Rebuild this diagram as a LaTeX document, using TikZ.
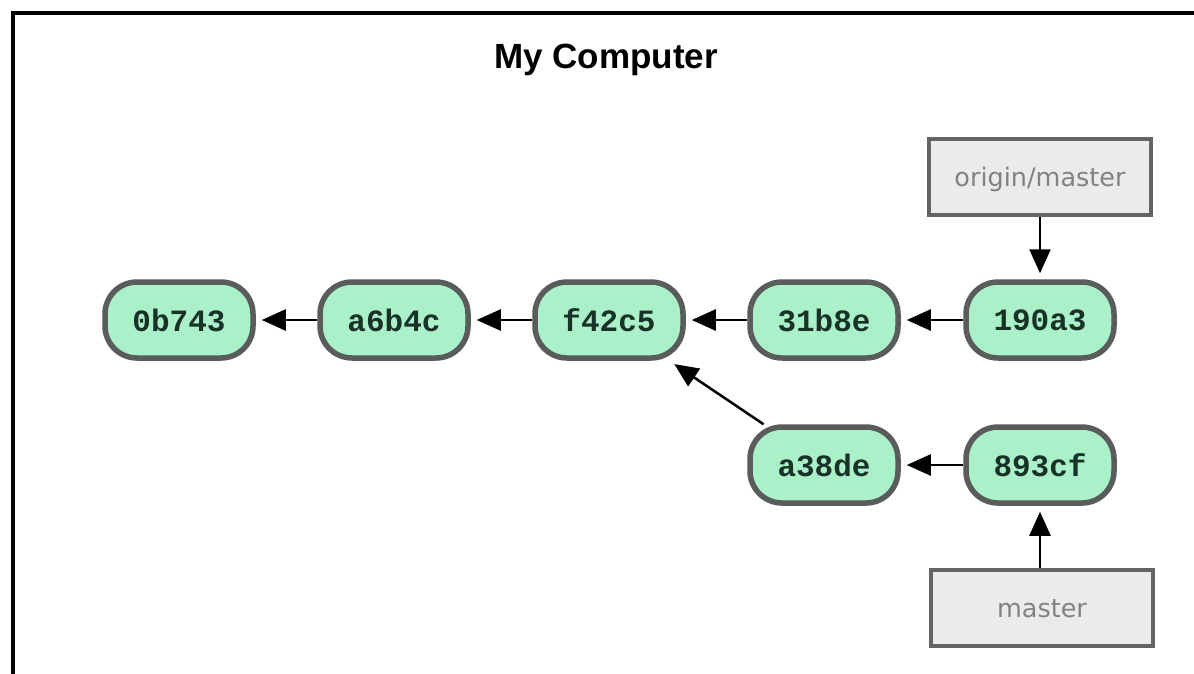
\documentclass[tikz,border=0pt]{standalone}
\usepackage{fontspec}
\usetikzlibrary{arrows.meta}
\newfontfamily\ttlfont{Liberation Sans}
\newfontfamily\cmtfont{Liberation Mono}
\newfontfamily\lblfont{DejaVu Sans}
\definecolor{mint}{RGB}{170,240,200}
\definecolor{cmtborder}{RGB}{88,92,90}
\definecolor{cmttext}{RGB}{25,50,40}
\definecolor{lblfill}{RGB}{235,235,235}
\definecolor{lblborder}{RGB}{100,100,100}
\definecolor{lbltext}{RGB}{130,130,130}
\tikzset{
  commit/.style={draw=cmtborder, fill=mint, line width=5.5pt, rounded corners=32pt,
    minimum width=148pt, minimum height=76pt, inner sep=0pt, text=cmttext,
    font=\cmtfont\bfseries\fontsize{31}{36}\selectfont},
  branch/.style={draw=lblborder, fill=lblfill, line width=4pt,
    minimum width=222pt, minimum height=76pt, inner sep=0pt, text=lbltext,
    text height=18pt, text depth=0pt,
    font=\lblfont\fontsize{25.5}{30}\selectfont},
  parent/.style={line width=2.5pt, -{Triangle[length=24pt,width=21pt]}, shorten >=6pt},
}
\begin{document}
\begin{tikzpicture}[x=1pt,y=-1pt]
\useasboundingbox (0,0) rectangle (1194,673);
\fill[white] (0,0) rectangle (1194,673);
\draw[line width=4pt] (12.5,680) -- (12.5,12.5) -- (1200,12.5);
\node[anchor=base, font=\ttlfont\bfseries\fontsize{35}{42}\selectfont] (title) at (606,68) {My Computer};
\node[commit] (c0) at (179,320) {0b743};
\node[commit] (c1) at (394,320) {a6b4c};
\node[commit] (c2) at (609,320) {f42c5};
\node[commit] (c3) at (824,320) {31b8e};
\node[commit] (c4) at (1040,320) {190a3};
\node[commit] (c5) at (824,465) {a38de};
\node[commit] (c6) at (1040,465) {893cf};
\node[branch] (om) at (1040,177) {origin/master};
\node[branch] (ma) at (1042,608) {master};
\draw[parent] (c1) -- (c0);
\draw[parent] (c2) -- (c1);
\draw[parent] (c3) -- (c2);
\draw[parent] (c4) -- (c3);
\draw[parent] (c5) -- (c2);
\draw[parent] (c6) -- (c5);
\draw[parent] (om) -- (c4);
\draw[parent] (ma.north -| c6) -- (c6);
\end{tikzpicture}
\end{document}
